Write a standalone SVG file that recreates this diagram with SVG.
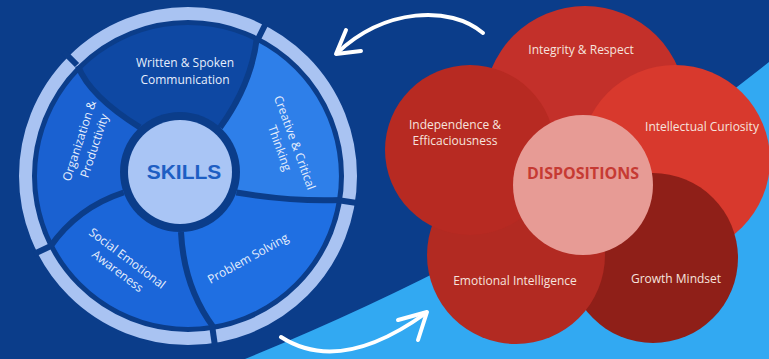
<svg xmlns="http://www.w3.org/2000/svg" width="769" height="359" viewBox="0 0 769 359">
<defs>
<style>
.seg-txt{font-family:"Open Sans","Noto Sans",sans-serif;font-size:12px;fill:#e6eefc;text-anchor:middle}
.pet-txt{font-family:"Open Sans","Noto Sans",sans-serif;font-size:12px;fill:#f6e3de;text-anchor:middle}
.bnd{fill:none;stroke:#0b3d8a;stroke-width:6}
.gap{stroke:#0b3d8a;stroke-width:6}
.arrow{fill:none;stroke:#ffffff;stroke-width:4;stroke-linecap:round;stroke-linejoin:round}
</style>
</defs>
<rect x="0" y="0" width="769" height="359" fill="#0b3d8a"/>
<path d="M 245,359 Q 560,230 769,62 L 769,359 Z" fill="#32a9f2"/>

<g id="skills">
  <circle cx="188" cy="176" r="162.5" fill="none" stroke="#a9c3f2" stroke-width="13"/>
  <g id="ring-gaps">
    <line class="gap" x1="77" y1="65" x2="64" y2="52"/>
    <line class="gap" x1="257" y1="41" x2="266" y2="23"/>
    <line class="gap" x1="337" y1="200" x2="357" y2="203"/>
    <line class="gap" x1="212" y1="325" x2="215" y2="346"/>
    <line class="gap" x1="53" y1="245" x2="34" y2="254"/>
  </g>
  <g id="seg-written">
    <path d="M 180,172 L 139.9,127.4 Q 89.5,96 81.2,69.2 A 151 151 0 0 1 256.6,41.5 Q 251.7,83.7 220.1,127.4 Z" fill="#0e48a3"/>
    <text class="seg-txt" x="185" y="67">Written &amp; Spoken</text>
    <text class="seg-txt" x="185" y="84">Communication</text>
  </g>
  <g id="seg-creative">
    <path d="M 180,172 L 220.1,127.4 Q 251.7,83.7 256.6,41.5 A 151 151 0 0 1 337.1,199.6 Q 293.5,202 236.4,192.5 Z" fill="#2e7fe9"/>
    <g transform="translate(288,145) rotate(70)">
      <text class="seg-txt" x="0" y="-3">Creative &amp; Critical</text>
      <text class="seg-txt" x="0" y="13">Thinking</text>
    </g>
  </g>
  <g id="seg-problem">
    <path d="M 180,172 L 236.4,192.5 Q 293.5,202 337.1,199.6 A 151 151 0 0 1 211.6,325.1 Q 183.7,287.5 181,232 Z" fill="#1f6fe2"/>
    <text class="seg-txt" transform="translate(250,262) rotate(-29)" x="0" y="0">Problem Solving</text>
  </g>
  <g id="seg-social">
    <path d="M 180,172 L 181,232 Q 183.7,287.5 211.6,325.1 A 151 151 0 0 1 53.5,244.6 Q 77.5,207.5 123.6,192.5 Z" fill="#1b66d9"/>
    <g transform="translate(123,264) rotate(37)">
      <text class="seg-txt" x="0" y="-3">Social Emotional</text>
      <text class="seg-txt" x="0" y="13">Awareness</text>
    </g>
  </g>
  <g id="seg-organization">
    <path d="M 180,172 L 123.6,192.5 Q 77.5,207.5 53.5,244.6 A 151 151 0 0 1 81.2,69.2 Q 89.5,96 139.9,127.4 Z" fill="#1a61d1"/>
    <g transform="translate(86,143) rotate(-72)">
      <text class="seg-txt" x="0" y="-3">Organization &amp;</text>
      <text class="seg-txt" x="0" y="13">Productivity</text>
    </g>
  </g>
  <g id="seg-boundaries">
    <path class="bnd" d="M 139.9,127.4 Q 89.5,96 78,66"/>
    <path class="bnd" d="M 220.1,127.4 Q 251.7,83.7 257,37"/>
    <path class="bnd" d="M 236.4,192.5 Q 293.5,202 341,200"/>
    <path class="bnd" d="M 181,232 Q 183.7,287.5 214,328"/>
    <path class="bnd" d="M 123.6,192.5 Q 77.5,207.5 50,247"/>
  </g>
  <g id="skills-center">
    <circle cx="180" cy="172" r="60" fill="#0b3d8a"/>
    <circle cx="180" cy="172" r="52" fill="#a9c5f5"/>
    <text x="184" y="179" font-family="'Liberation Sans',Arial,sans-serif" font-weight="bold" font-size="21" fill="#1e5ec3" text-anchor="middle">SKILLS</text>
  </g>
</g>

<g id="dispositions">
  <g id="petal-integrity">
    <circle cx="585" cy="107" r="101" fill="#c3302a"/>
  </g>
  <g id="petal-intellectual">
    <circle cx="675" cy="160" r="95" fill="#d8392d"/>
  </g>
  <g id="petal-growth">
    <circle cx="653" cy="258" r="85" fill="#8f1f18"/>
  </g>
  <g id="petal-emotional">
    <circle cx="516" cy="255" r="89" fill="#b22a22"/>
  </g>
  <g id="petal-independence">
    <circle cx="470" cy="150" r="85" fill="#b72a22"/>
  </g>
  <text class="pet-txt" x="581" y="54">Integrity &amp; Respect</text>
  <text class="pet-txt" x="702" y="131">Intellectual Curiosity</text>
  <text class="pet-txt" x="676" y="283">Growth Mindset</text>
  <text class="pet-txt" x="515" y="285">Emotional Intelligence</text>
  <text class="pet-txt" x="455" y="129">Independence &amp;</text>
  <text class="pet-txt" x="455" y="145">Efficaciousness</text>
  <g id="dispositions-center">
    <circle cx="583" cy="185" r="70" fill="#e79b95"/>
    <text x="583" y="179" font-family="'Open Sans','Noto Sans',sans-serif" font-weight="bold" font-size="16" fill="#c63a33" text-anchor="middle">DISPOSITIONS</text>
  </g>
</g>

<g id="connectors">
  <path class="arrow" d="M 483,33 C 450,5 385,8 337,53"/>
  <path class="arrow" d="M 346,30 L 336,54 L 361,51"/>
  <path class="arrow" d="M 281,337 Q 340,375 426,313"/>
  <path class="arrow" d="M 398,320 L 427,312 L 418,340"/>
</g>
</svg>
